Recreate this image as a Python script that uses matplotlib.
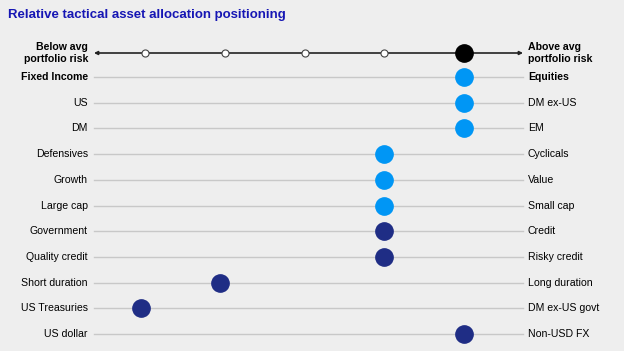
import numpy as np
import matplotlib.pyplot as plt

plt.rcParams['font.family'] = ['Liberation Sans', 'DejaVu Sans']

left_labels = ["Fixed Income", "US", "DM", "Defensives", "Growth", "Large cap",
               "Government", "Quality credit", "Short duration", "US Treasuries", "US dollar"]
right_labels = ["Equities", "DM ex-US", "EM", "Cyclicals", "Value", "Small cap",
                "Credit", "Risky credit", "Long duration", "DM ex-US govt", "Non-USD FX"]
positions = [5, 5, 5, 4, 4, 4, 4, 4, 1.94, 0.95, 5]
group = ["light", "light", "light", "light", "light", "light",
         "dark", "dark", "dark", "dark", "dark"]
scale_ticks = [1, 2, 3, 4]
scale_top = 5

bg = "#eeeeee"
colors = {"light": "#0096f5", "dark": "#1f2d85"}

fig = plt.figure(figsize=(6.24, 3.51), dpi=100, facecolor=bg)
ax = fig.add_axes([0, 0, 1, 1])
ax.set_facecolor(bg)
ax.set_xlim(-0.818, 7.006)
ax.set_ylim(11.66, -1.996)
ax.axis("off")

x0, x1 = 0.36, 5.74
lx, rx = 0.285, 5.80
hy = 0.066
fs = 7.6
dot = 155

# header scale line
ax.annotate("", xy=(x1, hy), xytext=(x0, hy),
            arrowprops=dict(arrowstyle="<|-|>", color="#222222", lw=1.2,
                            mutation_scale=5, shrinkA=0, shrinkB=0))
ax.scatter(scale_ticks, [hy] * len(scale_ticks), s=26, facecolor="white",
           edgecolor="#444444", lw=0.8, zorder=3)
ax.scatter([scale_top], [hy], s=dot, color="black", zorder=3)
ax.text(lx, hy, "Below avg\nportfolio risk", ha="right", va="center",
        fontsize=fs, fontweight="bold", linespacing=1.3)
ax.text(rx, hy, "Above avg\nportfolio risk", ha="left", va="center",
        fontsize=fs, fontweight="bold", linespacing=1.3)

for i, (l, r, p, g) in enumerate(zip(left_labels, right_labels, positions, group)):
    y = i + 1
    ax.plot([x0, x1], [y, y], color="#c8c8c8", lw=1, zorder=1)
    ax.scatter([p], [y], s=dot, color=colors[g], zorder=3)
    w = "bold" if i == 0 else "normal"
    ax.text(lx, y, l, ha="right", va="center", fontsize=fs, fontweight=w)
    ax.text(rx, y, r, ha="left", va="center", fontsize=fs, fontweight=w)

fig.text(8 / 624, 1 - 15 / 351, "Relative tactical asset allocation positioning",
         ha="left", va="center", fontsize=9.5, fontweight="bold", color="#1616b4")

fig.savefig("out.png", dpi=100, facecolor=bg)
